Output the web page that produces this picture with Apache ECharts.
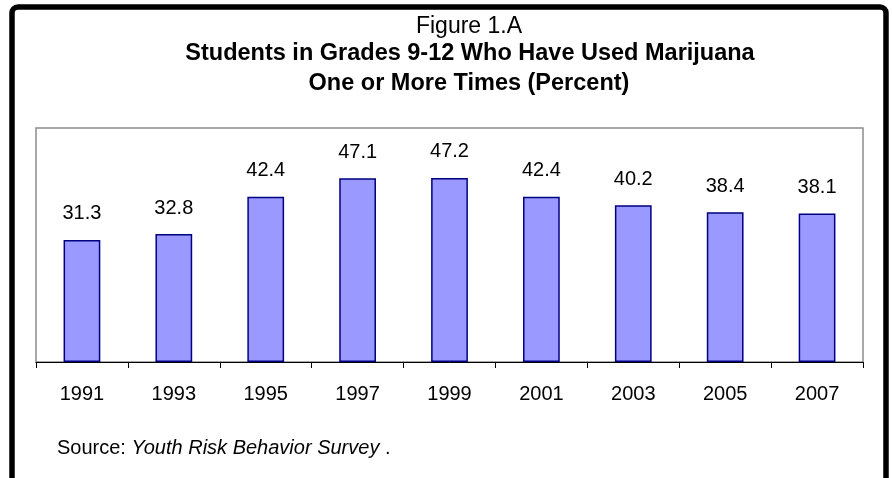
<!DOCTYPE html>
<html>
<head>
<meta charset="utf-8">
<script src="https://cdn.jsdelivr.net/npm/echarts@6/dist/echarts.min.js"></script>
<style>
html,body{margin:0;padding:0;background:#fff;}
#chart{width:892px;height:478px;}
</style>
</head>
<body>
<div id="chart"></div>
<script>
var years = ['1991','1993','1995','1997','1999','2001','2003','2005','2007'];
var percents = [31.3, 32.8, 42.4, 47.1, 47.2, 42.4, 40.2, 38.4, 38.1];
var titleLines = ['Figure 1.A', 'Students in Grades 9-12 Who Have Used Marijuana', 'One or More Times (Percent)'];
var sourceParts = ['Source: ', 'Youth Risk Behavior Survey', '.'];

var FONT = '"Liberation Sans", Arial, sans-serif';
var chart = echarts.init(document.getElementById('chart'), null, {renderer: 'canvas'});
chart.setOption({
  backgroundColor: '#fff',
  animation: false,
  grid: {left: 36, right: 29, top: 128, bottom: 116, show: true, borderColor: '#8c8c8c', borderWidth: 1.5, backgroundColor: 'transparent'},
  xAxis: {
    type: 'category',
    data: years,
    boundaryGap: true,
    axisLine: {lineStyle: {color: '#000', width: 1}},
    axisTick: {show: true, length: 6, interval: 0, lineStyle: {color: '#000', width: 1}},
    axisLabel: {color: '#000', fontSize: 20, fontFamily: FONT, margin: 22, interval: 0}
  },
  yAxis: {
    type: 'value', min: 0, max: 60, interval: 10,
    show: false,
    splitLine: {show: false}
  },
  series: [{
    type: 'bar',
    data: percents,
    barWidth: '40%',
    itemStyle: {color: '#9999FF', borderColor: '#000080', borderWidth: 1.5},
    label: {show: true, position: 'top', distance: 16, color: '#000', fontSize: 20, fontFamily: FONT,
      formatter: function(p){ return p.value.toFixed(1); }}
  }],
  graphic: [
    {type: 'rect', silent: true, z: 100, shape: {x: 12, y: 7, width: 874, height: 540, r: 6},
      style: {fill: 'none', stroke: '#000', lineWidth: 5.5}},
    {type: 'text', z: 100, style: {x: 469, y: 27, text: titleLines[0], align: 'center', verticalAlign: 'middle',
      fontSize: 23, fontFamily: FONT, fill: '#000'}},
    {type: 'text', z: 100, style: {x: 470, y: 54, text: titleLines[1], align: 'center', verticalAlign: 'middle',
      fontSize: 23.5, fontWeight: 'bold', fontFamily: FONT, fill: '#000'}},
    {type: 'text', z: 100, style: {x: 469, y: 83.5, text: titleLines[2], align: 'center', verticalAlign: 'middle',
      fontSize: 23.5, fontWeight: 'bold', fontFamily: FONT, fill: '#000'}},
    {type: 'text', z: 100, style: {x: 57, y: 448,
      text: '{n|' + sourceParts[0] + '}{i|' + sourceParts[1] + '}{n| ' + sourceParts[2] + '}',
      verticalAlign: 'middle',
      rich: {
        n: {fontSize: 20, fontFamily: FONT, fill: '#000', color: '#000'},
        i: {fontSize: 20, fontFamily: FONT, fontStyle: 'italic', fill: '#000', color: '#000'}
      }}}
  ]
});
</script>
</body>
</html>
